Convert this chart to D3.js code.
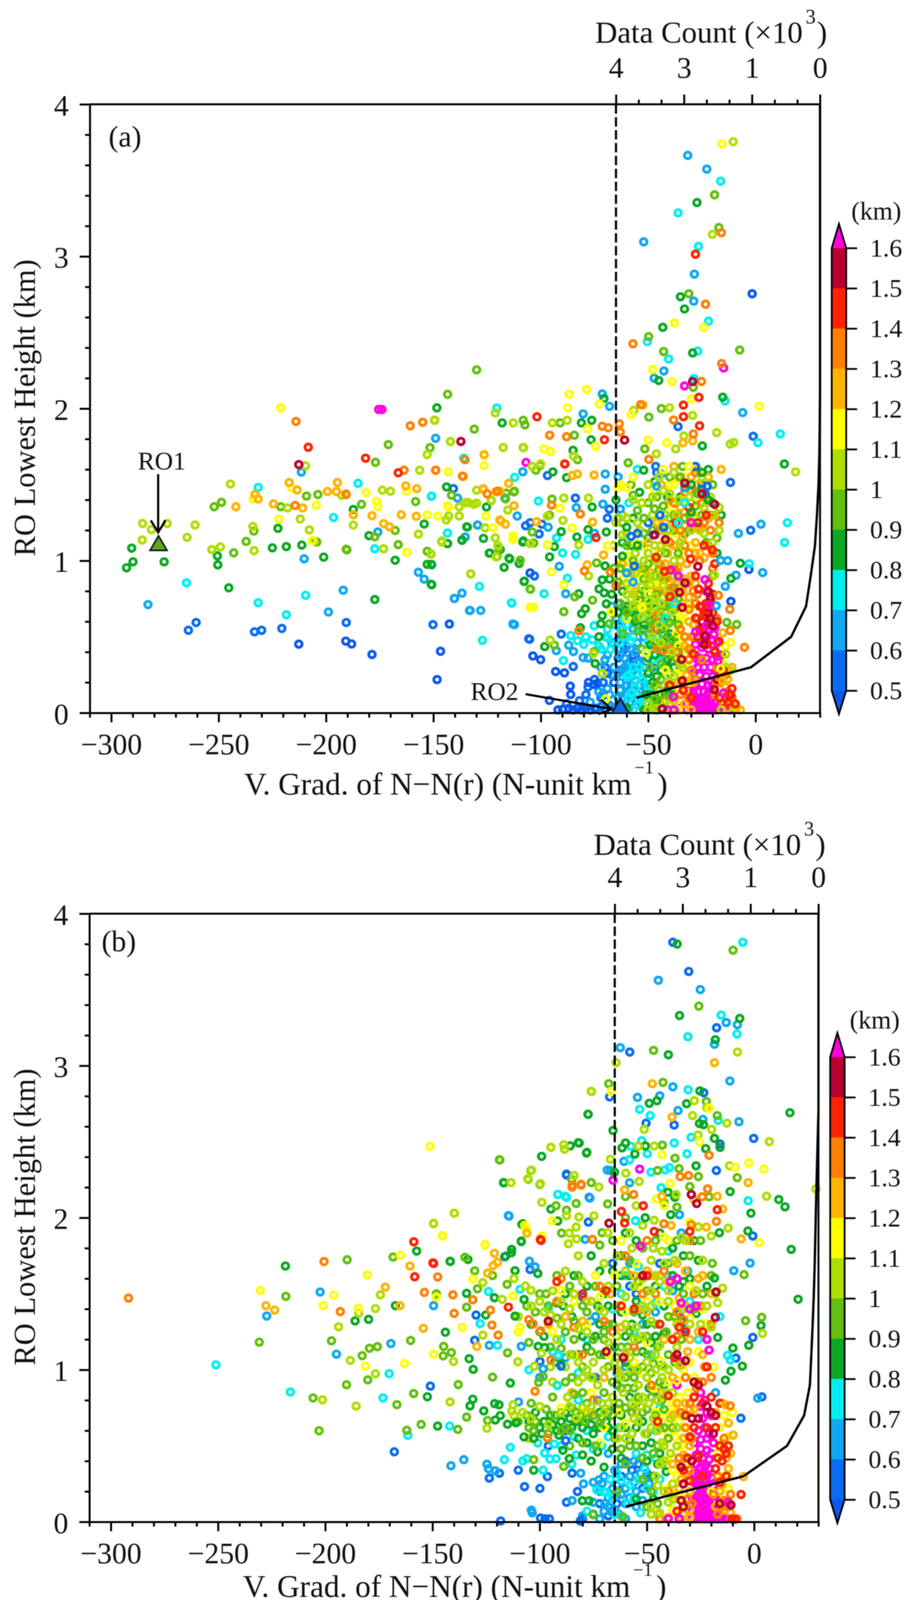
<!DOCTYPE html>
<html><head><meta charset="utf-8">
<script src="https://cdn.jsdelivr.net/npm/d3@7"></script>
<style>html,body{margin:0;background:#fff}svg{display:block;filter:blur(.9px)}text{font-family:"Liberation Serif",serif;fill:#111}</style>
</head><body><svg id="c" width="2333" height="4135"></svg>
<script>
// ---- colour levels ----
const levels=[0.5,0.6,0.7,0.8,0.9,1,1.1,1.2,1.3,1.4,1.5,1.6];
const bandColors=["#0c58ec","#0a6cf0","#10a8f0","#00eef0","#0ca824","#62c00e","#aede00","#ffff00","#ffb400","#ff8000","#ff2200","#b80030","#ff00e0"];
const xTicks=[-300,-250,-200,-150,-100,-50,0];
const xMinor=[-310,-290,-280,-270,-260,-240,-230,-220,-210,-190,-180,-170,-160,-140,-130,-120,-110,-90,-80,-70,-60,-40,-30,-20,-10,10,20,30];
const yTicks=[0,1,2,3,4];
const yMinor=[.2,.4,.6,.8,1.2,1.4,1.6,1.8,2.2,2.4,2.6,2.8,3.2,3.4,3.6,3.8];
const countTicks=[4,3,1,0];
const countMinor=[3.667,3.333,2.333,1.667,.667,.333];
const curveH=[.1,.3,.5,.7,.9,1.1,1.3,1.5,1.7,1.9,2.1,2.3,2.5,2.7,3,4];
const curveA=[3.7,1.03,.425,.206,.137,.074,.045,.022,.01,.004,0,0,0,0,0,0];
const curveB=[3.84,1.21,.463,.211,.126,.105,.085,.068,.055,.045,.035,.024,.012,0,0,0];

// ---- panel (a) points read individually: [gradient, height] by colour band ----
const A0=[[-212.7,.452],[-178.6,.384],[-188.1,.453],[-190.8,.472],[-146.7,.405],[-148.3,.219],[-142.6,.584],[-105.6,.487],[-103.7,.374],[-100.1,.35],[-93.1,.272],[-89,.263],[-1.6,2.755],[-96,.082],[-86.3,.176],[-86.1,.121],[-77.8,.2],[-75.2,.187],[-73.6,.195],[-92,.02],[-89.9,.023],[-87,.03],[-85,.02],[-83,.03],[-81,.02],[-79,.03],[-77,.02],[-105,.92],[-3.1,.943],[-11.5,.733]];
const A1=[[-264.1,.543],[-260.5,.594],[-233.3,.533],[-230,.543],[-220.6,.555],[-190.6,.594],[-150.2,.58],[-140.2,.752],[-103,.9],[-105.2,.484],[-90.5,.518],[-71,.2],[-68.9,.259],[-84.9,.305],[-71.1,.121],[-1.1,1.818],[-11.7,1.515],[-36.1,1.882],[-46.5,1.62],[-46,1.58],[-50,1.25],[-58,1.16],[-55,1.18],[-47.5,1.17],[-42.8,1.22],[-44.5,1.3],[-96.9,1.56],[-83.9,1.412],[-140.7,1.474],[-107.1,1.23],[-105,1.25],[-99.5,1.24],[-100.8,1.176],[-68.1,1.339],[-56.5,.965],[-2.3,1.2],[-69,1.28],[-28,1.62],[-25,1.47],[-22.5,1.49],[-23.5,1.44]];
const A2=[[-282.9,.712],[-192,.806],[-198.9,.663],[-210.2,1.013],[-211.5,1.583],[-31.6,3.664],[-22.7,3.574],[-52.1,3.096],[-28.5,2.884],[-28.8,2.706],[-42.7,2.247],[-47.2,2.2],[-80.3,1.965],[-71.4,2.096],[-68,2.015],[-149,1.805],[-6,1.974],[-108.4,1.585],[-175.9,1.189],[-129.4,1.234],[-157,.924],[-154.3,.879],[-136.7,.787],[-140.3,.752],[-133.2,.673],[-128,.673],[-112.3,.58],[-132.9,.673],[-113,.584],[-150.8,.973],[-138.8,1.412],[-116.7,1.412],[-111,1.294],[-129.5,1.235],[-135.2,1.156],[-83.5,1.349],[-71.1,1.372],[-96.6,1.22],[-91.4,.963],[-88.4,.783],[-92.8,.409],[-87,.445],[-84.8,.403],[-80.3,.364],[-78,.36],[-70.1,.35],[-71.4,.121],[-18.3,.704],[-16.3,1.002],[-9.1,.905],[-14.1,.832],[3.3,.922],[2.5,1.24],[-8,1.18],[-63,1.34],[-64,1.55],[-70,1.57],[-70,1.47],[-46,1.49],[-44,1.57],[-75,1.18],[-60,.92],[-57,.86],[-33,1.48]];
const A3=[[-265,.855],[-231.6,.724],[-218.5,.645],[-209.5,.773],[-231.6,1.482],[-196.5,1.284],[-16.3,3.495],[-36.1,3.286],[-26.6,3.066],[-21.9,2.575],[-50.4,2.44],[-40.5,2.326],[-27,2.378],[-28.7,2.198],[-120.5,2.004],[-14.2,2.05],[1.1,1.776],[11.5,1.833],[-112.2,1.548],[-135.9,1.674],[-185.1,1.509],[-151,1.423],[-143.4,1.182],[-177.3,1.079],[-128.6,.831],[-113.7,.724],[-113.5,.721],[-127.2,.477],[-150.8,1.425],[-143.5,1.182],[-101.1,1.392],[-92.7,1.15],[-89.9,1.051],[-83.8,1.042],[-87.6,.885],[-98.5,.783],[-75.2,.573],[-82.9,.475],[-86.1,.508],[-80,.45],[-89.5,.344],[13.5,1.12],[14.8,1.25],[-3,.98],[-36,1.25],[-33,1.38],[-55,1.6],[-78,1.14],[-59,1.38],[-38,.72],[-42,.62]];
const A4=[[-292.9,.954],[-289.9,.993],[-290.5,1.083],[-275.4,.993],[-250.6,1.032],[-250.4,.973],[-245.3,.822],[-225,1.085],[-218.5,1.093],[-211.3,1.103],[-201.1,1.024],[-222.4,1.213],[-27.3,3.354],[-35,2.735],[-33.1,2.655],[-43.2,2.534],[-29.3,2.366],[-45.1,2.185],[-148.4,2.005],[-118,1.906],[-81.1,1.906],[-76.3,1.923],[-70.6,2.067],[-76.6,1.795],[-85,1.726],[-94.4,1.584],[-88,1.546],[-15.3,2.075],[-24.8,1.755],[13.4,1.636],[-52.1,1.595],[-143.9,1.485],[-187.3,1.337],[-154.3,1.241],[-134.5,1.223],[-180,1.165],[-167.8,1.003],[-152.9,.976],[-151,.976],[-143.4,1.113],[-136.7,1.137],[-124,1.05],[-114.8,1.017],[-108.2,1.13],[-151,.845],[-107.7,.866],[-177.3,.745],[-125.3,1.353],[-134.2,1.222],[-143.5,1.113],[-136.7,1.134],[-126.7,1.147],[-108.4,1.123],[-123.7,1.051],[-118.9,1.074],[-114.5,1.012],[-117.1,.956],[-110.1,.982],[-107.8,.864],[-150.8,.842],[-76.1,1.353],[-90.5,1.191],[-78,1.205],[-69.5,1.189],[-83.2,1.156],[-93.7,1.093],[-95.9,1.025],[-70.1,.966],[-98.2,.436],[-81.6,.56],[-81,.652],[-79.3,.684],[-82.3,.783],[-72.9,.815],[-70.5,.789],[-71.4,.874],[-69.5,.717],[-71.4,.639],[-72,.586],[-72.9,.501],[-74.7,.324],[-7.1,.983],[-11.5,.884],[-25,1.58],[-30,1.5],[-22,1.4],[-20,1.38],[-30,1.32],[-60,1.22],[-55,1.1],[-62,1.03]];
const A5=[[-248.7,1.384],[-252.1,1.355],[-243,1.052],[-233.6,1.195],[-237.2,1.127],[-221.1,1.355],[-209.1,1.425],[-203.8,1.435],[-204.3,1.123],[-190.6,1.076],[-19.1,3.405],[-17.1,3.19],[-31.1,2.755],[-49.8,2.473],[-42.8,2.375],[-7.4,2.385],[-29,2.14],[-129.9,2.255],[-143.4,2.094],[-108.2,1.923],[-107.4,1.893],[-91,1.906],[-84.4,1.825],[-131,1.865],[-108.2,1.744],[-100.4,1.625],[-102.3,1.595],[-82.9,1.664],[-59.3,1.644],[-51.6,1.735],[-49.7,1.944],[-43.9,2],[-177,1.647],[-171,1.763],[-151.6,1.743],[-112.3,1.457],[-116.4,1.406],[-123.1,1.395],[-158.3,1.389],[-183.5,1.371],[-167.8,1.199],[-177.3,1.158],[-190.3,1.072],[-166.4,1.106],[-152.9,1.062],[-120.4,1.027],[-119.6,1.079],[-109.6,1.003],[-132.6,.914],[-105,.814],[-141.6,1.431],[-112.5,1.453],[-116.1,1.444],[-151.2,1.045],[-94.8,1.405],[-96,1.3],[-104,1.189],[-103.3,1.117],[-74,.986],[-75.2,.403],[-93.7,.445],[-104.8,.813],[-89.3,.665],[-84.2,.763],[-75.9,.741],[-68,.586],[-13.4,.595],[-8.8,.581],[-40,.595],[-35,1.55],[-27,1.44],[-47,1.34],[-52,1.28],[-57,1.43]];
const A6=[[-261,1.235],[-264.7,1.154],[-274,1.245],[-285.4,1.245],[-281.3,1.205],[-285.6,1.136],[-244.5,1.504],[-234.1,1.225],[-233.5,1.066],[-253.2,1.073],[-249.2,1.091],[-217.9,1.347],[-209.6,1.624],[-212,1.274],[-207.8,1.203],[-192.6,1.43],[-10.4,3.754],[-20.1,3.145],[-149.5,1.925],[-121.2,1.972],[-112.8,1.906],[-94.6,1.906],[-87.7,1.923],[-117.5,1.744],[-142,1.783],[-84.7,1.687],[-18.1,1.842],[18.6,1.584],[-11.8,1.767],[-10.2,1.777],[-37.2,1.735],[-33.4,1.82],[-46.2,1.703],[-56.7,1.988],[-40.1,2.006],[-29.3,1.955],[-149.4,1.922],[-142.1,1.784],[-108,1.743],[-152.9,1.698],[-156.4,1.595],[-100.1,1.636],[-104,1.62],[-173.8,1.464],[-170,1.457],[-129.9,1.464],[-135.3,1.382],[-131.3,1.371],[-138,1.354],[-187.3,1.234],[-144,1.268],[-125.9,1.216],[-205.7,1.13],[-173.2,1.079],[-157,1.175],[-151,1.045],[-146.1,1.13],[-105,1.113],[-133.9,1.383],[-129.9,1.379],[-123.1,1.398],[-115.4,1.333],[-138,1.294],[-142.9,1.294],[-121.2,1.15],[-120,1.1],[-120.8,1.025],[-96.9,1.294],[-89.7,1.265],[-89.3,1.412],[-77.8,1.412],[-82.3,1.104],[-146.1,1.123],[-132.7,.914],[-95.7,.479],[-75.5,.39],[-71.4,.259],[-77.8,.9],[-19.2,.905],[-13.9,.386],[-45,1.55],[-43,1.46],[-57,1.4],[-40,1.44]];
const A7=[[-221.1,2.005],[-222,1.274],[-216,1.478],[-204.6,1.365],[-206.4,1.133],[-233.9,1.406],[-15.6,3.74],[-37.8,2.563],[-24.2,2.534],[-48,2.257],[-38.9,2.178],[-86.8,2.095],[-78.7,2.126],[-87.5,2.005],[-72.7,2.031],[-78.2,1.867],[-74.5,1.752],[-98.6,1.735],[-95.5,1.718],[-126.4,1.693],[-126.5,1.625],[-143.1,1.584],[-50,1.793],[-41.4,1.775],[-30,2.064],[-58,1.96],[1.7,2.015],[-181.3,1.447],[-162.4,1.457],[-176.5,1.389],[-176,1.354],[-143.4,1.361],[-152.9,1.302],[-122.3,1.216],[-162.4,1.055],[-105,.693],[-103.5,.695],[-142.9,1.353],[-148,1.294],[-125.6,1.294],[-112.9,1.163],[-112.9,1.14],[-91.2,1.346],[-85.4,1.215],[-96.9,1.104],[-68.9,1.097],[-95,.927],[-89.3,.842],[-67.3,.665],[-69.8,.092],[-11.7,.463],[-53,.693],[-50.9,.392],[-41.9,.282],[-16.3,.291],[-43,1.6],[-38,1.5],[-31,1.62],[-57,1.55],[-60,1.48],[-63,1.5],[-64,1.48]];
const A8=[[-233.1,1.435],[-231.6,1.406],[-217.2,1.514],[-213.5,1.465],[-224.5,1.374],[-210.9,1.347],[-242,1.355],[-199.4,1.455],[-194.7,1.514],[-195.2,1.455],[-33.8,1.775],[-29.3,1.788],[-52.5,2.023],[-148.9,1.595],[-136.1,1.554],[-126.4,1.698],[-162.9,1.492],[-157.8,1.474],[-115,1.509],[-126.7,1.474],[-119.1,1.457],[-165,1.302],[-158,1.292],[-119.1,1.268],[-173.2,1.244],[-170.5,1.223],[-178.6,1.296],[-187.3,1.302],[-190.8,1.44],[-126.9,1.47],[-120.8,1.453],[-112.5,1.362],[-118.6,1.261],[-116.5,1.24],[-102,1.257],[-75.9,1.254],[-85.4,1.56],[-83,1.57],[-75.2,1.563],[-70.8,1.038],[-78.4,.973],[-15.3,.526],[-15.3,.211],[-7.1,.02]];
const A9=[[-214,1.915],[-190.6,1.435],[-214.4,1.363],[-15.9,3.156],[-23.3,2.686],[-57.1,2.426],[-15.8,2.296],[-25.2,2.178],[-38.2,1.925],[-71.4,1.884],[-68.6,1.874],[-63.5,1.9],[-63,1.846],[-95.9,1.825],[-88,1.815],[-49.7,1.666],[-149,1.595],[-136.5,1.556],[-160.8,1.887],[-155,1.91],[-163.7,1.595],[-135.3,1.664],[-125,1.44],[-120.4,1.457],[-95,1.366],[-81.6,1.307],[-82.3,.54],[-79.7,.933],[-67.6,.927],[-65,.835],[-17.3,.773],[-12,.681],[-11.8,.541],[-5.2,.431],[-29,1.833],[-53.5,2.026]];
const A10=[[-208.3,1.746],[-28,3.015],[-101.8,1.946],[-70.4,1.795],[-88.9,1.636],[-26.4,2.074],[-33.6,2.023],[-33.6,1.947],[-26.1,1.887],[-181.6,1.674],[-166.4,1.578],[-88.8,1.636],[-74.3,1.153],[-46.3,1.023],[-30.3,1.011],[-20.2,1.071],[-42.4,.93],[-26.5,.813],[-40,.764],[-25,.698],[-27.9,.624],[-23.6,.64],[-29.1,.389],[-33.7,.148],[-40,.182],[-11.5,.119],[-9.5,.06]];
const A11=[[-212.7,1.632],[-137.2,1.784],[-61,1.793],[-29.3,2.178],[-32.9,.855],[-26.9,.962],[-21.9,.796],[-35.4,.793],[-34.2,.693],[-21.1,.618],[-20,.572],[-23.5,.503],[-34.5,.352],[-34.2,.211],[-43.5,.025],[-19.2,.153],[-47,1.17],[-42,1.14],[-33,1.51],[-19,1.37],[-25,1.44]];
const A12=[[-175.5,1.994],[-174,1.994],[-106.9,1.646],[-14.9,2.267],[-33.1,2.149],[-39.5,.939],[-23.6,.876],[-21.6,.71],[-23,.572],[-27.9,.532],[-19.4,.515],[-17.6,.34],[-14.9,.13],[-38.3,.105],[-41,.02],[-38,.02],[-36,.9],[-30,1.25]];

// ---- panel (a) crowded zone, estimated, drawn first ----
const AD1=[[-62,.5],[-60,.44],[-57,.38],[-64,.36],[-61,.42],[-59,.33],[-56,.3],[-63,.28],[-53,.38],[-58,.24],[-64,.48],[-62,.6],[-48,.3],[-66,.2],[-70,.3],[-75,.22],[-78,.17],[-82,.08],[-80,.04],[-72,.1],[-68,.05],[-75,.03],[-88,.06],[-60,.28],[-79,.12],[-63,.06],[-72,.04],[-65.5,.03],[-70,.02],[-74,.03]];
const AD2=[[-65,.62],[-62,.55],[-60,.5],[-57,.55],[-55,.46],[-52,.5],[-63,.38],[-60,.32],[-57,.28],[-55,.33],[-52,.3],[-64,.26],[-60,.18],[-57,.15],[-54,.18],[-51,.15],[-62,.1],[-59,.03],[-56,.08],[-53,.04],[-67,.46],[-69,.38],[-72,.3],[-68,.12],[-67,.04],[-70,.08],[-73,.14],[-77,.07],[-64,.72],[-67,.7],[-66,.3],[-67,.25],[-69,.16],[-63,.42],[-61,.36],[-58,.42],[-56,.4],[-61,.3],[-54,.34],[-63,.2],[-58,.18],[-55,.25],[-60,.12],[-64,.1],[-58,.07],[-55,.12],[-52,.2],[-61,.04],[-63,.15],[-13,1]];
const AD3=[[-63,.46],[-61,.5],[-58,.47],[-55,.58],[-52,.62],[-49,.55],[-46,.5],[-48,.42],[-51,.4],[-54,.3],[-59,.25],[-56,.22],[-53,.22],[-50,.18],[-58,.13],[-54,.1],[-51,.06],[-57,.02],[-47,.28],[-44,.34],[-41,.45],[-45,.6],[-60,.58],[-66,.58],[-70,.5],[-73,.44],[-76,.48],[-79,.5],[-68.9,.494],[-67.6,.416],[-69,.55],[-66,.45],[-72,.42],[-63,.55],[-61.2,.612],[-56,.65],[-53,.543],[-57,.5],[-50,.47],[-60,.24],[-57,.3],[-53,.27],[-50,.23],[-56,.16],[-59,.1],[-52,.1],[-55,.05],[-48,.35]];
const AD4=[[-58,.66],[-55,.72],[-51,.75],[-48,.66],[-45,.72],[-42,.66],[-39,.62],[-56,.6],[-52,.55],[-49,.45],[-46,.55],[-43,.6],[-40,.52],[-37,.46],[-47,.38],[-44,.4],[-42,.3],[-39,.34],[-46,.24],[-43,.18],[-50,.26],[-48,.12],[-45,.08],[-41,.14],[-52,.02],[-49,.03],[-46,.02],[-62,.8],[-64,.66],[-61,.68],[-67,.78],[-68,.88],[-58,1.1],[-53,1.1],[-45,1.2],[-40,1.28],[-35,1.42],[-30,1.46],[-25,1.5],[-22,1.6],[-62,1.12],[-65,1.4],[-52,.8],[-48,.72],[-44,.55],[-41,.5],[-52,.58],[-46,.42],[-41,.35],[-38,.3],[-50,.36],[-44,.28],[-48,.2],[-42,.12],[-46,.07],[-51,.12],[-39,.16],[-60,.7],[-57,.62],[-54,.67],[-47,.63],[-38,.5],[-60,.03],[-57,1.28],[-50,1.15],[-41,1.42],[-33,1.18],[-27,1.22],[-18,1.05],[-54,1.45],[-47,1.52],[-16,1.3]];
const AD5=[[-60,.66],[-56,.7],[-54,.78],[-51,.68],[-48,.58],[-45,.66],[-41,.72],[-38,.68],[-55,.62],[-50,.52],[-47,.46],[-43,.52],[-39,.48],[-36,.58],[-45,.44],[-41,.38],[-37,.36],[-44,.32],[-40,.26],[-47,.18],[-44,.12],[-40,.1],[-47,.09],[-43,.03],[-48,.03],[-60,.92],[-52,.95],[-47,.9],[-43,.88],[-40,.8],[-36,.75],[-63,.95],[-66,.95],[-62,1.25],[-55,1.33],[-50,1.38],[-43,1.36],[-38,1.3],[-33,1.28],[-28,1.36],[-25,1.3],[-20,1.5],[-48,1.2],[-42,1.05],[-36,1.05],[-62,.52],[-66,.65],[-60,1.1],[-57,1],[-50,.98],[-45,.94],[-52,.88],[-46,.78],[-42,.7],[-38,.82],[-49,.6],[-55,.54],[-40,.42],[-44,.22],[-49,.3],[-53,.42],[-36,.4],[-43,.45],[-20,.9],[-64,.86],[-63,.72],[-64,1.28],[-52,1.18],[-46,1.42],[-38,1.2],[-31,1.2],[-23,1.12],[-18,1.15],[-58,1.5],[-40,1.55],[-34,1.62],[-24,1.42]];
const AD6=[[-60,.85],[-56,.92],[-52,1],[-49,.84],[-46,.9],[-43,.84],[-60,.78],[-57,.78],[-53,.83],[-50,.74],[-47,.76],[-44,.72],[-41,.78],[-38,.9],[-39,.66],[-41,.58],[-45,.58],[-57,.7],[-53,.63],[-50,.66],[-48,.5],[-44,.46],[-39,.4],[-42,.28],[-45,.16],[-50,.06],[-41,.2],[-38,.24],[-60,1.28],[-53,1.38],[-48,1.42],[-42,1.3],[-36,1.4],[-31,1.42],[-28,1.28],[-24,1.35],[-20,1.3],[-17,1.2],[-50,1.05],[-46,1],[-40,1.2],[-35,1.12],[-47,1.1],[-44,1.05],[-55,1.25],[-62,1.3],[-62,1.17],[-66,1.1],[-54,.96],[-50,.9],[-42,.92],[-38,1],[-47,.7],[-44,.65],[-58,.75],[-35,.88],[-17,1.35],[-25,1.55],[-34,.3],[-40,.06],[-46,.03],[-50,.02],[-16,.02],[-10,.04],[-12,.28],[-14,.3],[-56,1.05],[-43,1.2],[-37,1.3],[-32,1.5],[-26,1.45],[-21,1.42],[-48,1.3],[-65,1.25],[-60,1.18],[-54,1.2],[-42,1.12],[-30,1.2],[-24,1.18],[-50,1.5],[-38,1.58],[-20,1.12]];
const AD7=[[-60,.95],[-57,.98],[-54,.93],[-51,.88],[-48,.96],[-44,.92],[-41,.86],[-58,.8],[-55,.87],[-50,.78],[-46,.83],[-43,.76],[-40,.74],[-37,.8],[-62,.88],[-36,.68],[-35,.6],[-33,.66],[-37,.52],[-34,.47],[-36,.44],[-33,.38],[-37,.26],[-35,.24],[-31,.2],[-38,.18],[-40,.1],[-36,.12],[-42,.06],[-44,.03],[-34,1.05],[-30,1.1],[-37,1.18],[-33,1.4],[-28,1.3],[-39,1.35],[-45,1.25],[-56,1.12],[-60,1.03],[-48,.85],[-58,.85],[-55,.75],[-52,.7],[-45,.85],[-60,.62],[-36,.55],[-32,.32],[-34,.42],[-30,.7],[-35,.62],[-33,.14],[-36,.05],[-42,1.08],[-39,.95],[-36,.35],[-36,.02],[-15,.32],[-13,.26],[-14,.44],[-52,1.1],[-41,1.15],[-36,1.2],[-30,1.28],[-26,1.38],[-33,1.55],[-47,1.45],[-40,1.5],[-53,.9],[-45,1.05],[-63,.98]];
const AD8=[[-62,.98],[-58,.92],[-56,.8],[-53,.95],[-49,.92],[-46,.8],[-44,.97],[-41,.9],[-38,.75],[-36,.86],[-34,.72],[-31,.76],[-36,.95],[-33,.88],[-30,.9],[-28,.85],[-31,.6],[-29,.58],[-33,.44],[-30,.4],[-35,.32],[-32,.25],[-29,.2],[-36,.2],[-33,.06],[-30,.02],[-39,.02],[-42,.08],[-18,.2],[-16,.24],[-14,.17],[-12,.12],[-11,.06],[-13,.03],[-9,.03],[-16,.1],[-44,1.1],[-38,1.1],[-34,1.15],[-28,1.12],[-25,1.22],[-46,1.25],[-40,1.4],[-30,1.38],[-36,1.55],[-27,1.6],[-22,1.28],[-44,1.5],[-26,1.2],[-38,1.62],[-30,1.55],[-22,1.55],[-16,1.6],[-33,1.23],[-37,1.1],[-42,.98],[-47,1.02],[-40,.85],[-34,.8],[-30,.5],[-33,.2],[-37,.72],[-32,.98],[-26,1.05],[-38,.08],[-17,.16],[-13,.22],[-11,.3],[-41,1.05],[-35,1.35],[-31,1.3],[-27,1.5],[-23,1.42],[-19,1.3],[-38,1.22],[-28,1.05],[-24,1.02],[-42,1.25],[-35,1],[-50,1.12]];
const AD9=[[-46,.42],[-43,.41],[-40,.42],[-37,.4],[-42,.88],[-38,.95],[-47,.55],[-32,.85],[-29,.8],[-27,.78],[-31,.68],[-27,.62],[-29,.5],[-25,.35],[-31,.35],[-28,.22],[-31,.1],[-17,.2],[-14,.25],[-13,.14],[-11,.1],[-26,1],[-22,1.1],[-17,1.25],[-33,1.1],[-38,1.38],[-28,1.58],[-45,.98],[-35,.55],[-20,.95],[-18,.62],[-24,1.25],[-36,1.3],[-21,1.2],[-31,1.05],[-39,.82],[-42,.8],[-46,.64],[-37,.93],[-28,.72],[-33,.5],[-31,.42],[-30,.28],[-35,.12],[-19,.12],[-15,.06],[-18,.3],[-35,1.2],[-30,1.22],[-25,1.38],[-21,1.3],[-40,1.12],[-28,1.45],[-20,1.05],[-44,1.2],[-33,1.45]];
const AD10=[[-26,.7],[-23,.72],[-20,.78],[-24,.66],[-20,.66],[-18,.6],[-26,.55],[-22,.6],[-19,.4],[-16,.38],[-15,.28],[-17,.1],[-13,.07],[-11,.16],[-30,.1],[-22,.85],[-21,.74],[-24,.56],[-27,.5],[-22.5,.45],[-17,.47],[-16.5,.25],[-14,.1],[-28,.9],[-23,1.3],[-19,.98],[-37,1.25],[-27,1.25],[-24,1.1],[-31,1.35]];
const AD11=[[-22,.66],[-24,.45],[-18,.22],[-12,.12],[-21,.76],[-25,.6]];
const AD12=[[-23,.8],[-22,.72],[-24,.66],[-21,.62],[-25,.56],[-22,.55],[-19,.56],[-26,.5],[-23,.48],[-20,.48],[-18,.46],[-28,.45],[-25,.43],[-22,.42],[-19,.41],[-28,.38],[-26,.36],[-23,.36],[-20,.35],[-18,.37],[-29,.32],[-27,.3],[-24,.3],[-21,.3],[-18,.28],[-29,.26],[-26,.25],[-23,.24],[-20,.24],[-30,.2],[-28,.19],[-25,.19],[-22,.18],[-20,.18],[-31,.15],[-29,.14],[-27,.14],[-24,.14],[-22,.13],[-20,.12],[-31,.1],[-29,.09],[-27,.09],[-25,.09],[-23,.08],[-21,.08],[-19,.07],[-32,.06],[-30,.05],[-28,.05],[-26,.05],[-24,.05],[-22,.04],[-20,.04],[-18,.04],[-32,.02],[-30,.02],[-28,.02],[-26,.02],[-24,.02],[-22,.02],[-20,.02],[-18,.02],[-16,.03],[-14,.03],[-12,.02],[-35,.03]];

// ---- panel (b) points read individually ----
const B0=[[-167.8,.461],[-151,.893],[-123.5,.288],[-118.8,.32],[-107.1,.232],[-99.9,.22],[-118.2,.006],[-99.6,.025],[-97.5,.02],[-95.5,.02],[-87.5,.129],[-82.4,.2],[-81.1,.006],[-37.9,3.812],[-30.5,3.62],[-58,3.09],[-17.5,3.25],[-37.3,2.61],[-50.4,2.622],[-.2,2.522],[-17.6,2.311],[-.6,1.88],[-6.2,.682],[-.6,1.213],[-8.5,1.077],[-67.4,2.795],[-23.5,2.823],[-15.9,2.485],[-87.5,2.281],[-77.3,1.972],[-76.9,2.134],[-99.9,1.055],[-90,1.024],[-129.7,1.36],[-130.3,1.194],[-116.3,1.744],[-87.9,.534],[-96.4,.298],[-84.9,.32],[3.6,.822],[-87.5,2.287],[-104.5,1.66]];
const B1=[[-227.3,1.354],[-202.4,1.512],[-194.8,1.103],[-169.4,1.173],[-114.3,2.011],[-149.5,1.422],[-114.6,2.014],[-44.7,3.562],[-25.1,3.501],[-13,3.284],[-7.8,3.27],[-18.5,3.141],[-62.4,3.119],[-11.3,2.9],[-37.9,2.861],[-44,2.802],[-54.4,2.792],[-35.5,2.705],[-23.9,2.647],[-7.1,2.632],[-60.7,2.371],[-67,2.311],[-68.5,2.314],[-76.6,2.13],[-34.8,2.02],[-78.8,1.858],[-58.1,2.23],[-104.8,1.714],[-102.2,1.677],[-123.5,1.161],[-108.6,1.154],[-98.4,1.006],[-109.9,.789],[-135.4,.409],[-141.4,.369],[-124.6,.379],[-123.9,.35],[-120.7,.335],[-80.9,.32],[-79.6,.25],[-72.4,.276],[-70.9,.254],[-84.9,.14],[-75.1,.129],[-69.6,.121],[-103.9,.077],[-103.5,.06],[-70,.07],[-67,.07],[-9.5,1.652],[-1.9,1.702],[1.7,.814]];
const B2=[[-251,1.033],[-216.3,.854],[-170.2,.975],[-173.1,.815],[-161.5,.569],[-5.3,3.812],[-15.4,3.333],[-8,3.209],[-30.9,3.191],[-30.8,2.842],[-53.4,2.713],[-48.5,2.672],[-16.8,2.64],[-29.4,2.529],[-37.3,2.492],[-52.4,2.507],[-57.5,2.47],[-49.8,2.421],[-31.3,2.421],[-58.1,2.382],[-41.5,2.315],[-39.5,2.33],[-48.1,2.3],[-43.4,2.197],[-91.6,2.153],[-87.5,2.134],[-2.8,2.112],[-55.3,1.98],[-91.5,2.154],[-88,2.14],[-109.2,1.53],[-123.9,1.515],[-127.8,1.304],[-119.7,1.161],[-91.3,1.095],[-91.7,.896],[-100.9,.519],[-113.7,.49],[-93.3,.512],[-97.7,.453],[-95.2,.413],[-92.4,.416],[-116.5,.409],[-107.9,.401],[-106,.416],[-98.4,.34],[-73.4,.21],[-69,.195],[-77.9,.07],[-142,.63],[-12.4,1.095],[-11.1,1.065]];
const B3=[[-218.6,1.683],[-186.1,1.322],[-179.8,1.332],[-167.3,1.422],[-157.4,1.781],[-152.4,.823],[-141.7,1.713],[-115.9,1.747],[-113.2,1.77],[-116.7,2.23],[-108.3,1.957],[-108.6,1.847],[-99.1,2.404],[-82,2.494],[-78,2.43],[-77.4,2.68],[-65.8,2.574],[-35.9,3.8],[-34.8,3.33],[-6.7,3.311],[-18.1,3.171],[-40,3.072],[-25.3,2.834],[-31.5,2.75],[-45.3,2.77],[-48.9,2.753],[-77.5,2.681],[16.7,2.691],[-25.5,2.62],[-23.6,2.613],[-18.5,2.522],[-15.9,2.463],[-60,2.492],[-61.6,2.46],[-50.7,2.472],[-55.6,2.419],[-22.6,2.455],[-81.6,2.492],[-85.8,2.473],[-78.2,2.426],[-27.1,2.342],[-65.1,2.3],[-116.9,2.231],[-11.2,2.172],[-40.2,2.168],[-37,2.135],[11.5,2.12],[14.4,2.072],[-94.8,2.057],[-38.9,2.02],[-1.5,2.03],[-50.8,2],[-107.9,1.961],[-91.6,1.979],[-16.2,1.902],[-2.9,1.913],[-108.6,1.843],[-113.1,1.792],[17.3,1.792],[-141.8,1.714],[-133.5,1.726],[-111.5,1.652],[-100.9,1.633],[-134.1,1.503],[-121.1,1.474],[-107.3,1.463],[-125.2,1.36],[-111.5,1.353],[-144,1.247],[-100.7,1.154],[-97.7,1.146],[-132.9,1.073],[-131,1.003],[-113.7,.913],[-147.6,.63],[-131.2,.807],[-132.5,.763],[-126.1,.73],[-118.4,.699],[-120.7,.67],[-121,.778],[-119,.77],[-115,.642],[-111.1,.652],[-107.3,.559],[-102.8,.549],[-89.2,.471],[-86.2,.416],[-102.8,.34],[-80.1,.139],[-77,.139],[-10.8,.991],[-5.5,1.024],[-9.9,1.143],[-2.5,1.161],[-13.4,.932],[3.2,1.291],[20.5,1.464],[-17,1.213],[-18.5,1.604]];
const B4=[[-230.8,1.182],[-218.4,1.483],[-197.1,1.191],[-182.8,1.093],[-179.4,1.142],[-175.7,1.152],[-180.2,.934],[-190.1,.902],[-205.7,.815],[-166.6,.771],[-202.9,.599],[-162,.602],[-155.3,.641],[-189.8,1.724],[-168.4,1.742],[-160.2,1.193],[-158.8,.844],[-134.9,1.74],[-118.6,2.38],[-76,2.231],[-67.8,2.882],[-9.8,3.76],[-25.8,3.392],[-46.9,3.101],[-42.5,2.89],[-22.3,2.765],[-17.2,2.672],[-42.8,2.478],[-36.9,2.392],[-118.8,2.382],[-7.9,2.264],[-104.1,2.311],[-105.4,2.253],[-99.9,2.219],[-85,2.25],[-35,2.323],[-45,2.311],[-21,2.138],[-26,2.271],[-30,2.205],[-87.5,2.05],[-83,2.094],[-68.3,2.091],[-92.4,2.079],[-60,2.14],[-42,2.1],[-36,2.07],[-89.8,1.899],[-70.9,1.902],[-60,2],[-122,1.62],[-130.3,1.651],[-129,1.533],[-115.2,1.562],[-148.2,1.5],[-134.1,1.412],[-144.8,1.154],[-141.2,1.114],[-145,1.092],[-115,1.112],[-138,.903],[-134.1,.689],[-122,.952],[-138.2,.608],[-100.5,.918],[-98.4,.955],[-124.3,.667],[-88.8,.365],[-102.8,.409],[-4,1.323],[-4.7,1.626],[-19.5,1.7],[3.5,1.345],[-75.1,.047],[-61.3,.033]];
const B5=[[-184.4,1.372],[-193.8,1.283],[-188.3,1.062],[-176.6,.974],[-201.3,.803],[-185.6,.762],[-176.6,1.403],[-174.3,1.493],[-149.5,1.964],[-139.8,2.03],[-105.6,2.257],[-103.8,2.314],[-99.7,2.224],[-94.8,2.464],[-88.8,2.48],[-75.8,2.83],[-64.4,3.02],[-7.8,3.09],[-76,2.832],[-27.9,2.77],[-22.1,2.725],[-28.7,2.672],[-12.7,2.622],[-51.3,2.581],[-19.8,2.581],[-26.2,2.544],[-88.4,2.451],[-94.8,2.463],[7.1,2.501],[-54,2.47],[-46.6,2.472],[-67,2.385],[-11.5,2.342],[-84,2.278],[-113.4,2.231],[-59.8,2.293],[-53.6,2.239],[-72.4,2.202],[-36.4,2.153],[-99,2.101],[-55,2.08],[5.8,2.141],[28.8,2.19],[-139.9,2.03],[-149.5,1.961],[-87.5,2.013],[-81.7,2.005],[-74.7,2.013],[-46.6,1.984],[-12.1,1.932],[-26,1.94],[-86.2,1.899],[-82.8,1.861],[-83,1.939],[-86.6,1.829],[-68.3,1.902],[-34,1.87],[-43,1.78],[-126.5,1.574],[-112,1.6],[-117.5,1.463],[-106.7,1.552],[-104.1,1.522],[-148.2,1.48],[-126.5,1.228],[-140.2,1.055],[-99.2,1.109],[-110.2,1.053],[-102.5,1.024],[-141.8,.789],[-112.4,.77],[-113,.729],[-124.6,.615],[-17,1.441],[-14.7,1.537],[3.9,1.239]];
const B6=[[-230.3,1.522],[-196.1,1.491],[-201,1.422],[-184.6,1.406],[-180.4,1.624],[-181.3,1.024],[-165,1.753],[-163,1.042],[-151.2,2.47],[-145.2,1.88],[-125.4,1.82],[-106.4,1.93],[-66.7,2.832],[-21,2.72],[-25.5,2.5],[-43,2.414],[-2.5,2.36],[4.5,2.32],[-8.9,2.333],[-39.2,2.224],[-45.6,2.123],[-42,2.08],[-94.1,1.979],[-107,1.949],[-125.5,1.824],[-145.4,1.883],[-42.1,1.873],[-30,1.97],[-99,1.88],[2.3,1.836],[-148.2,1.478],[-131.2,1.596],[-112.4,1.486],[-109.2,1.279],[-136.1,1.279],[-149.5,1.102],[-110,1.25]];
const B7=[[-227.7,1.422],[-223.6,1.393],[-172,1.544],[-165.2,1.422],[-160.5,1.683],[-154.3,1.273],[-47.5,2.882],[-38.3,2.662],[-18.5,3.02],[-28,2.12],[-60.4,2.183],[-43,2.14],[-2.8,2.231],[-17.2,2.141],[-106,1.899],[-38.7,1.949],[-22.3,1.939],[-14.7,2.057],[-6,1.861],[-121.7,1.685],[-119.7,1.707],[-121.1,1.766],[-124.3,1.636],[-129.3,1.154],[-5,.298],[-9.8,.571],[-13.4,.77]];
const B8=[[-291.8,1.472],[-200.6,1.712],[-193,1.383],[-153.8,1.509],[-147.6,1.611],[-140.5,1.493],[-139.9,1.371],[-131.2,1.461],[-123,1.393],[-122.3,1.294],[-119.4,1.228],[-105.1,1.331],[-103.1,1.301],[-99.6,1.257],[-102.2,.859],[-96.4,.552],[-94.8,1.065],[-84.9,2.202],[-80.7,2.215],[-56.2,2.153],[-34.5,2.271],[-30.6,2.278],[-21,2.411],[-21.7,2.19],[-24.2,2.138],[-84.8,2.214],[-80.7,2.22],[-42.1,1.961],[-29.3,1.954],[-17.6,1.976],[-75.4,1.858],[-11.2,.763]];
const B9=[[-149.5,1.7],[-158.3,1.612],[-158.7,1.842],[-149.8,1.703],[-99.7,1.857],[-99.4,1.851],[-114.6,1.412],[-51.7,2.079],[-61.9,2.042],[-60.4,1.966],[-46.6,1.91],[-30,1.91],[-17.2,2.053],[-6.1,.18],[-9,.018],[-10.5,.02],[-62,1.42],[-35,1.28],[-37,1.08],[-40,.83],[-32,.7],[-22,1.02],[-28,.82]];
const B10=[[-67.7,1.964],[-26.8,2.094],[-29.3,2.153],[-17.8,1.512],[-18.1,1.345],[-32,1.06],[-36,1.1],[-34,.36],[-33,.25],[-33,.1],[-26,.68],[-29,.68],[-10.8,.111],[-69,1.12],[-61,1.08],[-52,1.62],[-96,1.32],[-28,.92]];
const B11=[[-65.8,2.247],[-53.4,2.32],[-53,1.814],[-12.1,.129],[-39,1.58],[-36,1.6],[-34,1.44],[-30,1.4],[-27,1.42],[-22,1.2],[-21,1.13],[-40,.02],[-35,.02]];

// ---- panel (b) crowded zone, estimated, drawn first ----
const BD0=[[-35,1.37],[-32,1.27],[-66,1.7],[-58,1.55],[-55,1.5],[-60,.4],[-57,.34],[-54,.38],[-62,.3],[-50,.32],[-64,.24],[-72,.12],[-80,.02],[-68,.04],[-75,.05],[-64,.12],[-52,.22],[-110,.34],[-96,.5],[-88,.6],[-74,.95],[-80,1.48],[-44,1.7]];
const BD1=[[-47,1.8],[-31,1.65],[-60,1.02],[-64,.98],[-58,.3],[-56,.26],[-60,.22],[-55,.2],[-64,.17],[-60,.12],[-65,.08],[-53,.32],[-49,.25],[-18,.85],[-44,1.45],[-42,1.42],[-76,1.32],[-73,.8],[-62,.18],[-66,.22],[-68,.16],[-58,.16],[-55,.1],[-52,.14],[-50,.3],[-47,.3],[-70,.3],[-72,.2],[-75,.26],[-63,.05],[-60,.02],[-68,.1],[-72,.02],[-80,.04],[-62,.38],[-65,.34],[-56,.4],[-52,1.3],[-46,1.38],[-38,1.52],[-68,.45],[-88,1.08],[-74,1.35],[-58,1.7],[-34,1.9],[-100,.95]];
const BD2=[[-65,.05],[-62,.04],[-66,.16],[-62,.27],[-51,.35],[-46,.6],[-44,.75],[-66,1.4],[-62,1.5],[-56,1.25],[-46,1.44],[-73,.62],[-71,.5],[-75,.48],[-63,.62],[-78,.6],[-51,1.4],[-16,1.35],[-70,.2],[-67,.28],[-64,.32],[-58,.24],[-54,.28],[-50,.22],[-47,.2],[-44,.28],[-46,.42],[-50,.44],[-55,.45],[-59,.12],[-56,.16],[-53,.06],[-68,.56],[-84,.56],[-90,.5],[-83,.44],[-85,.38],[-42,1.55],[-40,1.62],[-48,1.1],[-30,1.45],[-82,.8],[-90,1.2],[-96,1.4],[-78,1.2],[-60,1.62],[-54,1.68],[-40,1.78],[-26,1.2],[-105,1],[-82,.98],[-94,1.12]];
const BD3=[[-80,1.22],[-78,1.15],[-90,1.04],[-102,.72],[-95,.7],[-100,.62],[-92,.6],[-88,.72],[-85,.62],[-82,.55],[-78,.68],[-75,.58],[-72,.72],[-76,.4],[-80,.44],[-70,.36],[-66,.48],[-68,.62],[-65,.75],[-62,.7],[-58,.82],[-55,.62],[-60,1.22],[-57,1.3],[-52,1.12],[-48,1.18],[-43,1.03],[-46,.86],[-42,1.24],[-52,.5],[-45,.38],[-41,.33],[-47,.15],[-62,1.38],[-33,1.58],[-38,1.62],[-27,1.37],[-62,1.62],[-42,.9],[-56,1],[-48,.52],[-65,1.15],[-70,1.5],[-73,1.42],[-85,1.35],[-89,1.42],[-105,.66],[-98,.66],[-94,.64],[-90,.66],[-86,.68],[-83,.66],[-80,.62],[-76,.64],[-72,.62],[-69,.66],[-66,.6],[-99,.58],[-91,.57],[-78,.52],[-73,.46],[-60,.62],[-58,.54],[-55,.78],[-52,.66],[-49,.88],[-64,.9],[-60,1.05],[-56,1.15],[-70,1.1],[-74,1.22],[-52,1.36],[-46,1.22],[-50,.4],[-47,.3],[-55,.15],[-44,.45],[-62,.42],[-92,1.44],[-34,1.32],[-104,1.3],[-98,1.22],[-93,1.05],[-88,1.5],[-82,1.1],[-78,1.55],[-72,1.3],[-68,1.42],[-66,1.65],[-62,1.75],[-58,1.62],[-55,1.45],[-50,1.3],[-46,1.55],[-42,1.42],[-38,1.2],[-35,1.55],[-30,1.6],[-26,1.72],[-22,1.55],[-60,1.9],[-55,1.85],[-50,1.65],[-44,1.9],[-38,1.8],[-33,1.75],[-28,1.85],[-76,1.75],[-72,1.65],[-84,1.62]];
const BD4=[[-64,.2],[-100,1.5],[-96,1.42],[-92,1.34],[-100,1.25],[-105,1.18],[-95,1.15],[-88,1.25],[-84,1.32],[-80,1.42],[-75,1.2],[-72,1.1],[-68,1.02],[-85,.95],[-80,.85],[-75,.95],[-70,.85],[-66,.92],[-62,.88],[-105,.62],[-102,.66],[-96,.58],[-88,.62],[-85,.75],[-81,.7],[-78,.78],[-72,.65],[-60,.75],[-56,.88],[-52,.72],[-48,.82],[-44,.62],[-42,.74],[-58,.5],[-60,.38],[-52,.42],[-45,.5],[-40,.55],[-55,1.12],[-50,1.22],[-47,1.04],[-40,1.1],[-37,1.05],[-34,1.2],[-56,1.38],[-50,1.52],[-40,1.35],[-54,1.58],[-68,1.3],[-64,1.55],[-46,1.3],[-57,.72],[-66,.7],[-106,.7],[-103,.6],[-97,.74],[-93,.7],[-90,.6],[-86,.6],[-83,.72],[-79,.66],[-75,.7],[-71,.68],[-68,.72],[-63,.78],[-59,.88],[-54,.82],[-50,.74],[-46,.7],[-43,.8],[-60,.95],[-56,.95],[-52,1.02],[-48,.98],[-44,.92],[-64,1.08],[-59,1.15],[-70,1.25],[-76,1.12],[-80,1.02],[-65,.55],[-62,.48],[-55,.5],[-50,.58],[-47,.45],[-43,.38],[-52,.28],[-48,.2],[-45,.12],[-50,.1],[-42,.62],[-38,.62],[-90,1.14],[-84,1.2],[-88,.92],[-84,.84],[-106,1.42],[-102,1.38],[-97,1.5],[-92,1.62],[-86,1.55],[-82,1.62],[-78,1.38],[-74,1.55],[-70,1.2],[-66,1.3],[-62,1.15],[-58,1.25],[-54,1.2],[-50,1.1],[-45,1.15],[-41,1.25],[-37,1.35],[-33,1.5],[-28,1.4],[-24,1.5],[-20,1.62],[-72,1.82],[-66,1.85],[-58,1.72],[-52,1.8],[-46,1.85],[-40,1.7],[-36,1.85],[-30,1.75],[-25,1.85],[-85,1.1],[-94,.82],[-104,.78],[-110,.66],[-86,.5],[-80,.52],[-74,.5]];
const BD5=[[-100,1.45],[-95,1.36],[-90,1.3],[-86,1.4],[-82,1.27],[-92,.9],[-87,.82],[-82,.92],[-78,1],[-73,.9],[-68,.78],[-63,.98],[-58,1],[-54,.9],[-50,.95],[-46,1],[-43,.95],[-40,1],[-38,.85],[-35,1.03],[-56,.68],[-52,.82],[-47,.68],[-43,.52],[-39,.68],[-36,.62],[-55,1.28],[-48,1.32],[-44,1.16],[-52,1.6],[-46,1.62],[-40,1.52],[-33,1.4],[-60,1.65],[-57,1.8],[-48,1.72],[-68,1.18],[-75,1.05],[-70,.72],[-83,.68],[-95,1.02],[-64,.55],[-46,.3],[-42,.4],[-38,.25],[-40,.13],[-48,.05],[-36,.5],[-33,.7],[-108,.72],[-104,.68],[-100,.76],[-96,.64],[-90,.72],[-86,.76],[-80,.75],[-76,.76],[-71,.78],[-66,.82],[-61,.85],[-57,.78],[-53,.76],[-49,.78],[-45,.8],[-41,.85],[-62,.95],[-58,1.08],[-54,1],[-50,1.05],[-46,1.1],[-42,1.02],[-64,1.22],[-60,1.3],[-56,1.2],[-52,1.22],[-48,1.42],[-44,1.3],[-70,1.38],[-78,1.25],[-62,.62],[-60,.55],[-57,.58],[-54,.66],[-51,.58],[-48,.62],[-45,.6],[-42,.5],[-39,.45],[-44,.38],[-42,.2],[-45,.24],[-38,.15],[-44,.06],[-48,.1],[-30,1.3],[-25,1.3],[-20,1.28],[-36,1.15],[-92,1.2],[-86,1.1],[-80,.95],[-110,1.35],[-104,1.42],[-98,1.38],[-94,1.52],[-90,1.45],[-84,1.5],[-80,1.58],[-76,1.45],[-72,1.4],[-68,1.55],[-64,1.42],[-60,1.48],[-56,1.55],[-52,1.42],[-48,1.52],[-44,1.58],[-40,1.45],[-36,1.3],[-32,1.42],[-27,1.52],[-22,1.42],[-18,1.5],[-70,1.7],[-64,1.75],[-58,1.9],[-52,1.95],[-47,1.8],[-42,1.7],[-37,1.72],[-32,1.85],[-24,1.72],[-20,1.88],[-88,1.65],[-82,1.75],[-94,.92],[-88,1.02],[-82,1.05],[-76,.95],[-70,1],[-65,1.05],[-60,1.12],[-105,.55],[-112,.7]];
const BD6=[[-90,1.52],[-72,1.48],[-65,1.62],[-55,1.7],[-50,1.45],[-37,1.42],[-30,1.34],[-44,1.06],[-40,.92],[-36,.93],[-33,1],[-31,.85],[-37,.72],[-33,.62],[-28,.95],[-34,.5],[-32,.38],[-42,.5],[-38,.42],[-36,.3],[-35,.18],[-38,.08],[-16,.62],[-14,.7],[-12,.56],[-10,.72],[-19,1.02],[-22,1.3],[-66,.92],[-78,1.3],[-84,1.1],[-90,.75],[-60,.65],[-52,.98],[-47,.88],[-55,.8],[-44,.72],[-41,.62],[-72,.52],[-20,.2],[-12,.3],[-46,.72],[-43,.66],[-40,.72],[-38,.78],[-35,.82],[-40,.58],[-37,.56],[-35,.66],[-32,.55],[-41,.4],[-38,.34],[-35,.38],[-34,.28],[-40,.22],[-37,.18],[-33,.12],[-36,.05],[-76,.85],[-14,.18],[-12,.22],[-15,.3],[-17,.45],[-15,.52],[-42,.82],[-30,1.05],[-26,1.12],[-84,1.45],[-74,1.62],[-60,1.38],[-54,1.55],[-44,1.45],[-38,1.35],[-30,1.55],[-24,1.4],[-62,1.85],[-40,1.85],[-94,1.25],[-68,1.1],[-56,1.05],[-50,1.18],[-70,.62],[-63,.72],[-80,.72]];
const BD7=[[-67,1.5],[-48,1.62],[-40,1.58],[-35,1.47],[-26,1.6],[-96,1.3],[-60,1.1],[-54,1.4],[-42,1.2],[-31,1.12],[-36,.78],[-29,.68],[-33,.55],[-38,.38],[-34,.28],[-37,.15],[-30,.08],[-18,.1],[-15,.25],[-13,.42],[-12,.65],[-16,.5],[-45,.05],[-40,.03],[-34,.02],[-28,.92],[-24,1.1],[-55,.72],[-43,.85],[-70,.95],[-38,.7],[-35,.72],[-32,.78],[-30,.74],[-28,.74],[-33,.44],[-30,.5],[-32,.32],[-35,.22],[-30,.2],[-33,.05],[-30,.03],[-16,.2],[-13,.14],[-11,.06],[-14,.08],[-12,.35],[-11,.45],[-18,.72],[-15,.78],[-38,.95],[-34,1.03],[-80,1.32],[-85,.85],[-88,1.35],[-78,1.45],[-62,1.28],[-50,1.38],[-44,1.62],[-36,1.7],[-32,1.65],[-24,1.62],[-20,1.5],[-56,1.62],[-30,1.2],[-26,1.25],[-64,1],[-50,1.65],[-76,.72]];
const BD8=[[-46,1.5],[-33,1.33],[-28,1.5],[-56,1.15],[-36,1.22],[-30,.78],[-35,.42],[-40,.2],[-31,.15],[-26,.92],[-17,.3],[-11,.18],[-8,.02],[-14,.55],[-48,.9],[-70,1.32],[-80,1.1],[-32,.95],[-23,1.02],[-32,.62],[-29,.55],[-30,.34],[-31,.27],[-29,.12],[-32,.42],[-15,.1],[-12,.1],[-14,.14],[-19,.18],[-17,.05],[-34,.72],[-27,.88],[-24,.92],[-20,.95],[-44,.02],[-92,1.45],[-84,1.28],[-72,1.55],[-66,1.25],[-52,1.5],[-42,1.65],[-36,1.38],[-25,1.42],[-20,1.3],[-75,.8],[-60,1.75],[-50,1.85],[-30,1.85],[-90,1.6]];
const BD9=[[-56,1.4],[-69,1.52],[-45,.66],[-31,.42],[-26,.43],[-24,.78],[-22,.62],[-16,.5],[-13,.45],[-15,.4],[-18,.35],[-24,.3],[-30,.27],[-33,.34],[-36,.07],[-17,.42],[-14,.48],[-12,.5],[-18,.62],[-20,.82],[-16,.78],[-16,.26],[-13,.3],[-30,.56],[-28,.62],[-80,1.5],[-50,1.62],[-44,1.3],[-38,1.2],[-32,1.25],[-24,1.25],[-92,1.58]];
const BD10=[[-28,.82],[-26,.9],[-34,.14],[-20,.72],[-22,.76],[-18,.7],[-19,.58],[-16,.12],[-29,.4]];
const BD11=[[-25,.85],[-23,.8],[-25,.76],[-22,.72],[-20,.7],[-24,.68],[-26,.6],[-23,.62],[-21,.58],[-25,.54],[-22,.55],[-19,.52],[-28,.52],[-25,.48],[-22,.47],[-20,.45],[-27,.44],[-24,.42],[-21,.41],[-27,.38],[-25,.36],[-23,.36],[-21,.35],[-28,.32],[-26,.31],[-24,.3],[-22,.3],[-20,.29],[-28,.26],[-26,.25],[-24,.24],[-22,.24],[-19,.24],[-27,.21],[-25,.2],[-23,.2],[-21,.19],[-18,.17],[-29,.16],[-27,.16],[-25,.15],[-23,.15],[-21,.14],[-19,.13],[-29,.11],[-27,.11],[-25,.1],[-23,.1],[-21,.09],[-19,.08],[-29,.07],[-27,.06],[-25,.06],[-23,.05],[-21,.05],[-19,.05],[-17,.04],[-29,.02],[-27,.02],[-25,.02],[-23,.02],[-21,.02],[-19,.02],[-17,.02],[-15,.02],[-13,.02],[-36,.9],[-34,1.05]];

const panelA=[A0,A1,A2,A3,A4,A5,A6,A7,A8,A9,A10,A11,A12];
const denseA=[[],AD1,AD2,AD3,AD4,AD5,AD6,AD7,AD8,AD9,AD10,AD11,AD12];
const panelB=[[],B0,B1,B2,B3,B4,B5,B6,B7,B8,B9,B10,B11];
const denseB=[[],BD0,BD1,BD2,BD3,BD4,BD5,BD6,BD7,BD8,BD9,BD10,BD11];
// ---- drawing order of colour bands (later on top) ----
const denseOrder=[1,2,3,12,4,7,8,5,9,6,10,11];
const baseOrder=[0,1,2,3,12,4,5,6,7,8,9,10,11];

const svg=d3.select("#c");
function panel(cfg){
  const g=svg.append("g");
  const x=d3.scaleLinear().domain([-310,30]).range([cfg.l,cfg.r]);
  const y=d3.scaleLinear().domain([0,4]).range([cfg.b,cfg.t]);
  const cnt=d3.scaleLinear().domain(countTicks).range([x(-65),x(-33.33),x(-1.67),x(30)]);
  const marks=g.append("g");
  const draw=(sets,order)=>order.forEach(i=>{
    marks.selectAll(null).data(sets[i]).join("circle")
      .attr("cx",d=>x(d[0])).attr("cy",d=>y(d[1])).attr("r",8.4)
      .attr("fill","none").attr("stroke",bandColors[i]).attr("stroke-width",7.2);
  });
  draw(cfg.dense,denseOrder);
  draw(cfg.sets,baseOrder);
  // dashed threshold & count curve
  g.append("line").attr("x1",x(-65)).attr("x2",x(-65)).attr("y1",cfg.t).attr("y2",cfg.b)
    .attr("stroke","#000").attr("stroke-width",5.5).attr("stroke-dasharray","24 9");
  const line=d3.line().x(d=>cnt(d[0])).y(d=>y(d[1]));
  g.append("path").attr("d",line(cfg.curve.map((c,i)=>[c,curveH[i]]))).attr("fill","none").attr("stroke","#000").attr("stroke-width",6);

  const fmt=d3.format("~g");
  const styleAxis=s=>{s.selectAll("path,line").attr("stroke","#000").attr("stroke-width",5);s.select(".domain").attr("stroke-linecap","square");s.selectAll("text").attr("font-family","Liberation Serif").attr("fill","#111").attr("font-size",cfg.fs);};
  g.append("g").attr("transform",`translate(0,${cfg.b})`).call(d3.axisBottom(x).tickValues(xMinor).tickSize(12).tickSizeOuter(0).tickFormat("")).call(styleAxis);
  g.append("g").attr("transform",`translate(0,${cfg.b})`).call(d3.axisBottom(x).tickValues(xTicks).tickSize(24).tickPadding(28).tickSizeOuter(0)).call(styleAxis);
  g.append("g").attr("transform",`translate(${cfg.l},0)`).call(d3.axisLeft(y).tickValues(yMinor).tickSize(12).tickSizeOuter(0).tickFormat("")).call(styleAxis);
  g.append("g").attr("transform",`translate(${cfg.l},0)`).call(d3.axisLeft(y).tickValues(yTicks).tickSize(26).tickPadding(28).tickSizeOuter(0).tickFormat(fmt)).call(styleAxis).call(s=>s.selectAll("text").attr("dy","0.37em"));
  // top count axis
  g.append("g").attr("transform",`translate(0,${cfg.t})`).call(d3.axisTop(cnt).tickValues(countMinor).tickSize(12).tickSizeOuter(0).tickFormat("")).call(styleAxis).select(".domain").remove();
  g.append("g").attr("transform",`translate(0,${cfg.t})`).call(d3.axisTop(cnt).tickValues(countTicks).tickSize(25).tickPadding(43).tickSizeOuter(0).tickFormat(fmt)).call(styleAxis).select(".domain").remove();
  g.append("line").attr("x1",cfg.l).attr("x2",cfg.r).attr("y1",cfg.t).attr("y2",cfg.t).attr("stroke","#000").attr("stroke-width",5);
  g.append("line").attr("x1",cfg.r).attr("x2",cfg.r).attr("y1",cfg.t).attr("y2",cfg.b).attr("stroke","#000").attr("stroke-width",5);

  const txt=(s,xx,yy,fs,anchor)=>g.append("text").attr("x",xx).attr("y",yy).attr("font-size",fs).attr("text-anchor",anchor||"start").text(s);
  txt(cfg.label,cfg.labelX,cfg.labelY,76);
  txt("Data Count (×10",cfg.r-576,cfg.t-cfg.dcDy,79);
  txt("3",cfg.r-37,cfg.t-cfg.dcDy-49,52);
  txt(")",cfg.r-8,cfg.t-cfg.dcDy,79);
  txt("V. Grad. of N−N(r) (N-unit km",cfg.titleX,cfg.b+cfg.titleDy,80);
  txt("−1",cfg.titleX+1000,cfg.b+cfg.titleDy-54,46);
  txt(")",cfg.titleX+1058,cfg.b+cfg.titleDy,80);
  g.append("text").attr("transform",`translate(${cfg.yTitleX},${(cfg.t+cfg.b)/2-2}) rotate(-90)`).attr("text-anchor","middle").attr("font-size",78).text("RO Lowest Height (km)");

  // colour bar
  const cb=d3.scaleLinear().domain([.5,1.6]).range([cfg.cbY05,cfg.cbY05-1133]);
  const cbg=g.append("g");
  const xl=cfg.cbX,xr=cfg.cbX+37;
  cbg.selectAll(null).data(d3.pairs(levels)).join("rect").attr("x",xl).attr("width",37)
    .attr("y",d=>cb(d[1])).attr("height",d=>cb(d[0])-cb(d[1])).attr("fill",(d,i)=>bandColors[i+1]);
  cbg.append("path").attr("d",`M${xl},${cb(.5)}L${(xl+xr)/2},${cb(.5)+60}L${xr},${cb(.5)}Z`).attr("fill",bandColors[0]);
  cbg.append("path").attr("d",`M${xl},${cb(1.6)}L${(xl+xr)/2},${cb(1.6)-62}L${xr},${cb(1.6)}Z`).attr("fill",bandColors[12]);
  cbg.append("path").attr("d",`M${xl},${cb(.5)}L${(xl+xr)/2},${cb(.5)+60}L${xr},${cb(.5)}V${cb(1.6)}L${(xl+xr)/2},${cb(1.6)-62}L${xl},${cb(1.6)}Z`).attr("fill","none").attr("stroke","#000").attr("stroke-width",4.5);
  g.append("g").attr("transform",`translate(${xr},0)`).call(d3.axisRight(cb).tickValues(levels).tickSize(28).tickPadding(33).tickFormat(fmt)).call(s=>{s.selectAll("line").attr("stroke","#000").attr("stroke-width",4.5);s.select(".domain").remove();s.selectAll("text").attr("font-family","Liberation Serif").attr("fill","#111").attr("font-size",66);});
  txt("(km)",cfg.cbX+50,cfg.cbY05-1206,66);

  // RO markers
  cfg.ro.forEach(r=>{
    const sym=d3.symbol().type(d3.symbolTriangle).size(820);
    g.append("path").attr("transform",`translate(${x(r.v)},${y(r.h)})`).attr("d",sym()).attr("fill",r.c).attr("stroke","#111").attr("stroke-width",4);
    txt(r.name,r.tx,r.ty,65);
    const a=r.arrow;
    g.append("path").attr("d",`M${a[0]},${a[1]}L${a[2]},${a[3]}`).attr("stroke","#000").attr("stroke-width",5.5).attr("fill","none");
    const ang=Math.atan2(a[3]-a[1],a[2]-a[0]),L=36,sp=.55;
    g.append("path").attr("d",`M${a[2]-L*Math.cos(ang-sp)},${a[3]-L*Math.sin(ang-sp)}L${a[2]},${a[3]}L${a[2]-L*Math.cos(ang+sp)},${a[3]-L*Math.sin(ang+sp)}`).attr("stroke","#000").attr("stroke-width",5.5).attr("fill","none");
  });
}
panel({sets:panelA,dense:denseA,l:230,r:2100,t:267,b:1825,fs:76,label:"(a)",labelX:278,labelY:375,dcDy:158,titleX:625,titleDy:209,yTitleX:89,cbX:2130,cbY05:1768,curve:curveA,
  ro:[{name:"RO1",v:-278,h:1.1,c:"#5aaa1e",tx:353,ty:1202,arrow:[405,1214,405,1363]},{name:"RO2",v:-63,h:.03,c:"#1464e0",tx:1205,ty:1792,arrow:[1346,1777,1566,1815]}]});
panel({sets:panelB,dense:denseB,l:229,r:2096,t:2339,b:3896,fs:76,label:"(b)",labelX:260,labelY:2435,dcDy:151,titleX:622,titleDy:192,yTitleX:89,cbX:2126,cbY05:3839,curve:curveB,ro:[]});
</script></body></html>
